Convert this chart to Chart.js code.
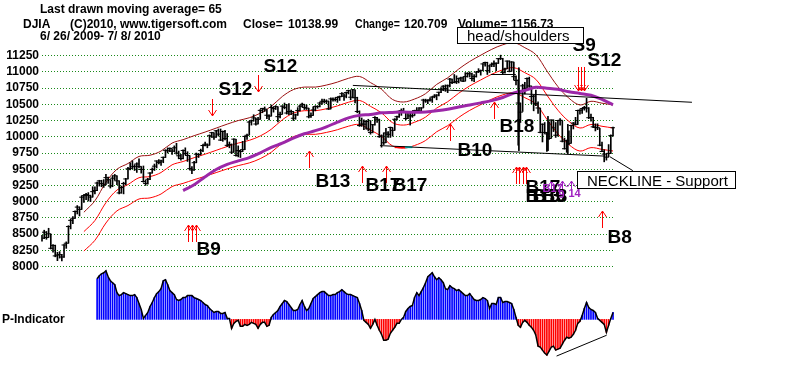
<!DOCTYPE html>
<html><head><meta charset="utf-8">
<script src="https://cdn.jsdelivr.net/npm/chart.js@4.4.0/dist/chart.umd.min.js"></script>
<style>html,body{margin:0;padding:0;background:#fff;}#wrap{width:800px;height:367px;position:relative;}</style>
</head><body><div id="wrap"><canvas id="c"></canvas></div>
<script>
// ---- DJIA daily data, 6/26/2009 .. 7/8/2010 (trading-day index 0..259) ----
const closes = [
8438,8529,8447,8504,8281,8325,8164,8178,8183,8147,
8332,8359,8616,8712,8744,8848,8916,8881,9069,9093,
9109,9097,9071,9154,9172,9287,9320,9281,9256,9370,
9338,9241,9362,9398,9321,9135,9218,9279,9350,9506,
9509,9539,9544,9581,9544,9496,9311,9281,9345,9441,
9497,9547,9627,9605,9627,9683,9792,9784,9820,9779,
9830,9749,9707,9665,9789,9742,9712,9509,9488,9600,
9731,9726,9787,9865,9886,9871,10016,10063,9996,10092,
10041,9949,10081,9972,9868,9882,9763,9963,9713,9789,
9772,9802,10006,10023,10227,10247,10291,10197,10270,10407,
10437,10426,10332,10318,10451,10434,10464,10310,10345,10472,
10453,10366,10389,10390,10286,10337,10406,10472,10501,10452,
10441,10308,10329,10414,10465,10466,10520,10547,10545,10549,
10428,10584,10572,10574,10607,10618,10664,10627,10681,10711,
10610,10725,10603,10390,10173,10197,10194,10236,10120,10067,
10186,10297,10271,10002,10012,9908,10059,10038,10144,10099,
10269,10309,10393,10402,10383,10282,10374,10321,10325,10404,
10406,10397,10444,10566,10553,10564,10567,10612,10625,10642,
10686,10734,10779,10742,10786,10889,10836,10841,10850,10896,
10907,10857,10927,10974,10970,10898,10927,10997,11006,11019,
11123,11145,11019,11092,11117,11125,11134,11204,11205,10992,
11045,11167,11009,11152,10927,10868,10520,10380,10785,10748,
10897,10783,10620,10626,10511,10444,10068,10193,10067,10044,
9974,10259,10137,10024,10250,10255,9932,9816,9940,9899,
10173,10211,10191,10405,10409,10434,10451,10442,10294,10298,
10153,10144,10139,9870,9774,9733,9686,9744,10018,10139];
const highs = [
8480,8560,8540,8590,8500,8340,8330,8220,8230,8190,
8340,8380,8630,8730,8770,8860,8940,8920,9090,9110,
9130,9140,9100,9230,9230,9300,9330,9330,9340,9420,
9380,9340,9400,9420,9400,9320,9240,9300,9360,9530,
9600,9630,9570,9600,9660,9540,9550,9330,9360,9450,
9520,9580,9630,9650,9640,9690,9800,9830,9830,9810,
9860,9900,9780,9730,9800,9830,9770,9710,9540,9620,
9750,9740,9810,9880,9920,9890,10030,10070,10060,10100,
10120,10120,10090,10100,10050,9920,9890,9970,9960,9860,
9790,9930,10010,10040,10240,10260,10340,10290,10300,10420,
10440,10460,10420,10340,10490,10460,10480,10460,10380,10480,
10520,10500,10510,10410,10390,10350,10450,10490,10520,10500,
10490,10440,10370,10460,10480,10480,10530,10580,10580,10570,
10550,10600,10600,10600,10610,10630,10680,10660,10690,10720,
10710,10730,10720,10610,10400,10290,10260,10250,10270,10250,
10190,10310,10300,10270,10030,10060,10130,10080,10150,10140,
10280,10320,10400,10430,10440,10390,10390,10370,10370,10410,
10450,10450,10450,10580,10580,10570,10600,10620,10650,10650,
10690,10760,10790,10800,10800,10900,10890,10960,10940,10900,
10920,10920,10990,10990,11000,10980,10960,11000,11050,11030,
11130,11150,11150,11100,11140,11170,11140,11210,11258,11210,
11060,11170,11170,11160,11150,10940,10880,10520,10810,10840,
10910,10920,10780,10640,10720,10540,10440,10200,10220,10070,
10230,10260,10260,10220,10250,10280,10250,9980,9950,10090,
10180,10220,10300,10410,10420,10440,10470,10594,10450,10350,
10300,10200,10200,10130,9920,9800,9740,9880,10030,10150];
const lows = [
8390,8430,8420,8450,8270,8220,8150,8090,8130,8087,
8140,8280,8360,8580,8660,8740,8810,8780,8880,8990,
9030,9010,9000,9070,9120,9170,9240,9230,9220,9260,
9280,9210,9230,9330,9260,9120,9130,9120,9260,9350,
9490,9510,9480,9450,9520,9440,9300,9250,9270,9340,
9440,9480,9520,9580,9560,9600,9680,9750,9770,9730,
9770,9730,9660,9640,9660,9720,9620,9490,9430,9480,
9600,9680,9720,9770,9860,9830,9870,9990,9960,9990,
10010,9940,9930,9950,9850,9830,9740,9760,9700,9690,
9680,9770,9800,9960,10030,10180,10240,10180,10200,10270,
10370,10390,10280,10260,10320,10380,10420,10230,10290,10350,
10430,10350,10340,10340,10250,10270,10330,10400,10460,10420,
10420,10290,10300,10330,10400,10440,10460,10500,10520,10510,
10420,10430,10550,10550,10530,10560,10620,10560,10600,10660,
10570,10600,10520,10370,10160,10160,10110,10120,10090,10040,
10060,10180,10220,9990,9840,9880,9910,9990,9990,10010,
10100,10260,10300,10330,10370,10260,10280,10180,10300,10330,
10390,10370,10390,10450,10530,10510,10550,10530,10600,10570,
10630,10680,10710,10700,10680,10770,10820,10830,10820,10830,
10860,10850,10860,10920,10920,10860,10850,10920,10990,10950,
11020,11090,10960,10990,11080,11080,11020,11130,11190,10970,
10980,11050,11000,11010,10880,10800,9870,10220,10390,10660,
10750,10760,10510,10400,10480,10360,10060,9920,10050,9774,
9960,9980,10080,9990,10010,10180,9920,9810,9760,9880,
9900,10120,10180,10190,10350,10360,10410,10380,10280,10240,
10140,10090,10110,9860,9770,9614,9640,9690,9740,10010];

// 21-day moving average and its +/-3.5% bands (read at every 5th trading day)
const maDays = [19,24,29,34,39,44,49,54,59,64,69,74,79,84,89,94,99,104,109,114,119,124,129,134,139,144,149,154,159,164,169,174,179,184,189,194,199,204,209,214,219,224,229,234,239,244,249,254,259];
const ma21 = [8538,8709,8985,9179,9264,9369,9387,9449,9568,9619,9678,9732,9791,9850,9903,9945,10013,10116,10262,10364,10402,10402,10432,10476,10532,10560,10469,10369,10217,10180,10224,10304,10442,10540,10671,10784,10876,10964,11032,11065,10988,10885,10643,10410,10237,10135,10190,10162,10136];
const maUpper = [8837,9014,9299,9500,9588,9697,9716,9780,9903,9956,10017,10073,10134,10195,10250,10293,10363,10470,10621,10727,10766,10766,10797,10843,10901,10930,10835,10732,10575,10536,10582,10665,10807,10909,11044,11161,11257,11348,11418,11452,11373,11266,11016,10774,10595,10490,10547,10518,10491];
const maLower = [8239,8404,8671,8858,8940,9041,9058,9118,9233,9282,9339,9391,9448,9505,9556,9597,9663,9762,9903,10001,10038,10038,10067,10109,10163,10190,10103,10006,9859,9824,9866,9943,10077,10171,10298,10407,10495,10580,10646,10678,10603,10504,10270,10046,9879,9780,9833,9806,9781];
// 65-day moving average
const ma65Days = [64,69,74,79,84,89,94,99,104,109,114,119,124,129,134,139,144,149,154,159,164,169,174,179,184,189,194,199,204,209,214,219,224,229,234,239,244,249,254,259];
const ma65 = [9171,9261,9384,9496,9575,9629,9680,9753,9837,9903,9980,10046,10094,10153,10226,10292,10330,10344,10369,10376,10381,10377,10383,10400,10424,10460,10491,10523,10557,10605,10674,10713,10762,10748,10731,10693,10668,10640,10575,10493];

// P-Indicator, days 25..259
const pStartDay = 25;
const pIndicator = [
41,44,46,47,49,43,39,37,35,27,
24,25,27,26,25,24,24,25,22,16,
10,1,4,7,13,17,22,26,28,31,
39,40,35,29,27,25,20,19,20,22,
22,24,24,24,22,21,20,19,17,15,
14,11,9,7,8,8,6,6,7,1,
1,-9,-4,-2,-1,-7,-7,-5,-6,-5,
-3,-4,-5,-9,-5,-3,-3,-7,-6,2,
5,7,9,13,16,19,18,15,12,9,
9,10,15,19,13,9,11,16,21,23,
25,27,28,28,26,24,24,25,25,27,
28,30,28,26,25,25,24,23,22,16,
9,-1,-3,-5,-9,-5,0,-6,-11,-15,
-21,-21,-20,-14,-11,-8,-4,-4,0,2,
8,11,13,14,22,27,24,28,32,37,
43,45,47,43,40,42,40,37,31,30,
34,32,31,29,30,28,26,24,24,26,
23,20,19,19,20,22,21,19,11,16,
16,15,22,22,17,18,18,17,16,10,
2,-6,-8,-3,-1,-3,-6,-8,-11,-16,
-27,-28,-31,-34,-36,-32,-28,-27,-31,-30,
-29,-25,-21,-18,-19,-18,-15,-11,-4,-2,
4,11,17,12,10,9,7,1,-1,-3,
-5,-13,-6,1,7];
const pTrendDays = [233.4, 256.1];
const pTrendVals = [-37, -16];

// Price axis tick labels
const priceTicks = [8000,8250,8500,8750,9000,9250,9500,9750,10000,10250,10500,10750,11000,11250];

// Drawn trend lines (day, price)
const upperNeckDays = [141, 294.8];
const upperNeckVals = [10792, 10532];
const lowerNeckDays = [153.3, 255.3];
const lowerNeckVals = [9864, 9702];
const pointerDays = [257.6, 268];
const pointerVals = [9692, 9478];
const headLineDays = [203.6, 214.9];
const headLineVals = [10960, 10960];
const vert1Days = [216.3, 216.3], vert1Vals = [11067, 9783];
const vert2Days = [229.5, 229.5], vert2Vals = [10318, 9783];
const vert3Days = [238.5, 238.5], vert3Vals = [10196, 9737];
const cyanDays = [164.6, 168], cyanVals = [9840, 9840];
const redBitDays = [160, 164.6], redBitVals = [9840, 9840];

// Signals: day, arrow-tip price, direction, colour group
const sigDay = [66,68,70,77,98,121,145,156,185,205,215,216.5,218,219.5,231,236,240,243,244.5,246,254];
const sigTip = [8637,8637,8637,10318,10685,9783,9554,9554,10196,10532,9539,9539,9539,9539,9325,9325,9325,10700,10700,10700,8851];
const sigDir = ['up','up','up','down','down','up','up','up','up','up','up','up','up','up','up','up','up','down','down','down','up'];
const sigGroup = ['r','r','r','r','r','r','r','r','r','r','r','r','r','r','p','p','p','r','r','r','r'];
const sigText = ['B9','S12','S12','B13','B17','B17','B10','B18','B17','B13','B13','B9','S9','S12','B8'];
const sigSmallText = ['B17','9','14'];

// ---------------- chart -----------------
const FONT = '"Liberation Sans", Arial, Helvetica, sans-serif';
Chart.defaults.font.family = FONT;
const pts = (xs, ys) => xs.map((x, i) => ({x: x, y: ys[i]}));
const lineDs = (xs, ys, color, w, order, extra) => Object.assign({
  type: 'line', data: pts(xs, ys), borderColor: color, borderWidth: w,
  pointRadius: 0, tension: 0, fill: false, clip: false, order: order, yAxisID: 'y'
}, extra || {});

const labelLayout = [
  {i: 2, dx: 0, dy: 30}, {i: 3, dx: 6, dy: -21}, {i: 4, dx: 5, dy: -20},
  {i: 5, dx: 6, dy: 36}, {i: 6, dx: 3, dy: 25}, {i: 7, dx: 6, dy: 25},
  {i: 8, dx: 7, dy: 32}, {i: 9, dx: 5, dy: 30}, {i: 10, dx: 9, dy: 26},
  {i: 10, dx: 9, dy: 35}, {i: 10, dx: 16, dy: 35}, {i: 10, dx: 25, dy: 35},
  {i: 17, dx: -6, dy: -40}, {i: 18, dx: 6, dy: -25}, {i: 20, dx: 5, dy: 32}
];
const smallLayout = [{i: 14, dx: -9, dy: 11}, {i: 15, dx: -4, dy: 17}, {i: 16, dx: -3, dy: 16}];

const annot = {
  id: 'annot',
  afterDatasetsDraw(chart) {
    const ctx = chart.ctx, xs = chart.scales.x, ys = chart.scales.y;
    ctx.save();
    const tips = [];
    for (let i = 0; i < sigDay.length; i++) {
      const x = Math.round(xs.getPixelForValue(sigDay[i])) + 0.5;
      const yt = Math.round(ys.getPixelForValue(sigTip[i]));
      tips.push({x: x, y: yt});
      const purple = sigGroup[i] === 'p';
      const len = purple ? 10 : (sigDir[i] === 'down' && sigDay[i] > 240 ? 24 : 17);
      const d = sigDir[i] === 'up' ? 1 : -1;
      ctx.strokeStyle = purple ? '#a020c0' : '#ff0000';
      ctx.lineWidth = 1;
      ctx.beginPath();
      ctx.moveTo(x, yt); ctx.lineTo(x, yt + d * len);
      ctx.moveTo(x - 4, yt + d * 6); ctx.lineTo(x, yt); ctx.lineTo(x + 4, yt + d * 6);
      ctx.stroke();
    }
    ctx.fillStyle = '#000';
    ctx.font = 'bold 19px ' + FONT;
    ctx.textBaseline = 'alphabetic';
    ctx.textAlign = 'left';
    sigText.forEach((t, k) => {
      const L = labelLayout[k], p = tips[L.i];
      ctx.fillText(t, p.x + L.dx, p.y + L.dy);
    });
    ctx.fillStyle = '#a020c0';
    ctx.font = 'bold 11px ' + FONT;
    sigSmallText.forEach((t, k) => {
      const L = smallLayout[k], p = tips[L.i];
      ctx.fillText(t, p.x + L.dx, p.y + L.dy);
    });
    ctx.font = '15px ' + FONT;
    ctx.lineWidth = 1;
    ctx.strokeStyle = '#000';
    ctx.fillStyle = '#fff';
    ctx.fillRect(457.5, 27.5, 126, 16); ctx.strokeRect(457.5, 27.5, 126, 16);
    ctx.fillRect(577.5, 171.5, 158, 17); ctx.strokeRect(577.5, 171.5, 158, 17);
    ctx.fillStyle = '#000';
    ctx.fillText('head/shoulders', 467, 41);
    ctx.fillText('NECKLINE - Support', 587, 186);
    ctx.restore();
  },
  afterDraw(chart) {
    const ctx = chart.ctx;
    ctx.save();
    ctx.fillStyle = '#000';
    ctx.font = 'bold 12px ' + FONT;
    ctx.textAlign = 'left';
    ctx.textBaseline = 'alphabetic';
    ctx.fillText('Last drawn moving average= 65', 40, 13);
    ctx.fillText('DJIA', 23, 28);
    ctx.fillText('(C)2010, www.tigersoft.com', 70, 28);
    ctx.fillText('Close=', 243, 28);
    ctx.fillText('10138.99', 288, 28);
    ctx.save();
    ctx.translate(355, 28);
    ctx.scale(0.88, 1);
    ctx.fillText('Change=', 0, 0);
    ctx.restore();
    ctx.fillText('120.709', 404, 28);
    ctx.fillText('Volume= 1156.73', 458, 28);
    ctx.fillText('6/ 26/ 2009- 7/ 8/ 2010', 40, 40);
    ctx.fillText('P-Indicator', 2, 323);
    ctx.restore();
  }
};

const datasets = [
  {type: 'bar', data: closes.map((c, i) => ({x: i, y: [lows[i], highs[i]]})), backgroundColor: '#000',
   barThickness: 1, grouped: false, order: 2, yAxisID: 'y', clip: false},
  {type: 'scatter', data: closes.map((c, i) => ({x: i, y: c})), pointStyle: 'line', pointRadius: 2.5,
   pointBorderColor: '#000', pointBorderWidth: 1, pointBackgroundColor: '#000', showLine: false, order: 2, yAxisID: 'y'},
  lineDs(maDays, maUpper, '#9a1010', 1, 3, {tension: 0.35}),
  lineDs(maDays, ma21, '#ff0000', 1, 3, {tension: 0.35}),
  lineDs(maDays, maLower, '#ff0000', 1, 3, {tension: 0.35}),
  lineDs(ma65Days, ma65, '#9c27a8', 3, 1, {tension: 0.35}),
  lineDs(upperNeckDays, upperNeckVals, '#000', 1, 0),
  lineDs(lowerNeckDays, lowerNeckVals, '#000', 1, 0),
  lineDs(pointerDays, pointerVals, '#000', 1, 0),
  lineDs(headLineDays, headLineVals, '#000', 1, 0),
  lineDs(vert1Days, vert1Vals, '#000', 1, 0),
  lineDs(vert2Days, vert2Vals, '#000', 1, 0),
  lineDs(vert3Days, vert3Vals, '#000', 1, 0),
  lineDs(redBitDays, redBitVals, '#ff0000', 2, 0),
  lineDs(cyanDays, cyanVals, '#00e0e0', 2, 0),
  {type: 'bar', data: pIndicator.map((v, i) => ({x: pStartDay + i, y: v})),
   backgroundColor: pIndicator.map(v => v >= 0 ? '#0000ff' : '#ff0000'),
   barThickness: 1, grouped: false, order: 5, yAxisID: 'p', clip: false},
  {type: 'line', data: pIndicator.map((v, i) => ({x: pStartDay + i, y: v})), borderColor: '#000',
   borderWidth: 1.5, pointRadius: 0, tension: 0, order: 4, yAxisID: 'p'},
  lineDs(pTrendDays, pTrendVals, '#000', 1, 0, {yAxisID: 'p'})
];

new Chart(document.getElementById('c'), {
  type: 'bar',
  data: {datasets: datasets},
  options: {
    responsive: true, maintainAspectRatio: false, animation: false, events: [],
    layout: {padding: {left: 0, right: 185, top: 20, bottom: 2}},
    plugins: {legend: {display: false}, tooltip: {enabled: false}, title: {display: false}},
    scales: {
      x: {type: 'linear', min: 0, max: 259.9, display: false, offset: false, grid: {display: false}},
      y: {
        type: 'linear', position: 'left', min: 6528.6, max: 11800,
        afterBuildTicks: s => { s.ticks = priceTicks.map(v => ({value: v})); },
        afterFit: s => { s.width = 42; s.paddingTop = 0; s.paddingBottom = 0; },
        ticks: {color: '#000', font: {size: 12, weight: 'bold'}, padding: 3, autoSkip: false,
                callback: v => String(v)},
        grid: {color: '#1a8a1a', lineWidth: 1, drawTicks: false, borderDash: [1, 2]},
        border: {display: false, dash: [1, 2]}
      },
      p: {type: 'linear', display: false, min: -43, max: 302, grid: {display: false}}
    }
  },
  plugins: [annot]
});
</script>
</body></html>
